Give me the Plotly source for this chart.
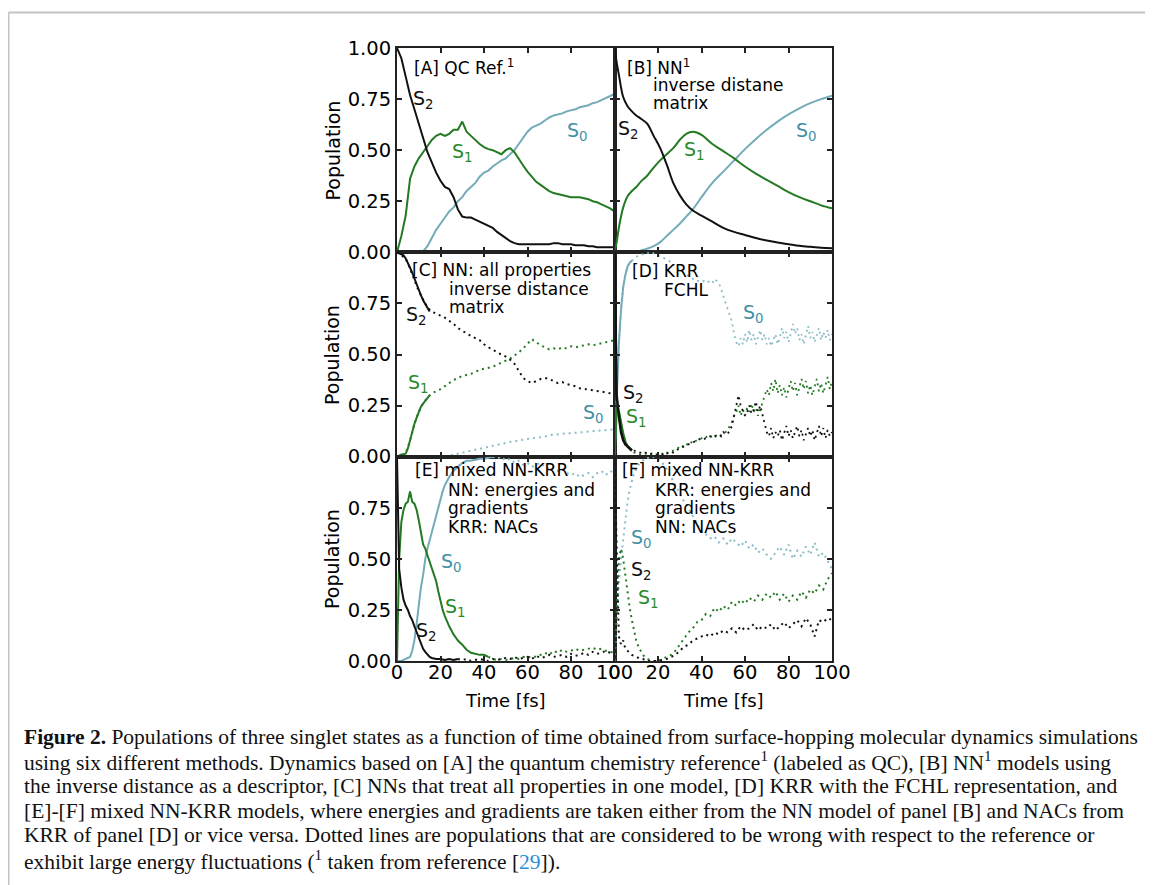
import plotly.graph_objects as go
from plotly.subplots import make_subplots

# ---------------- data ----------------
TA = list(range(0, 101, 2))
A_S2 = [1.00, 0.95, 0.86, 0.77, 0.70, 0.63, 0.56, 0.49, 0.44, 0.39,
        0.35, 0.32, 0.31, 0.27, 0.21, 0.175, 0.17, 0.17, 0.16, 0.15,
        0.14, 0.13, 0.12, 0.10, 0.085, 0.07, 0.055, 0.045, 0.04, 0.04,
        0.04, 0.04, 0.04, 0.04, 0.04, 0.04, 0.045, 0.045, 0.04, 0.04,
        0.04, 0.035, 0.035, 0.035, 0.03, 0.03, 0.025, 0.025, 0.025, 0.025, 0.025]
A_S1 = [0.00, 0.08, 0.18, 0.36, 0.42, 0.46, 0.49, 0.52, 0.55, 0.57,
        0.58, 0.57, 0.58, 0.60, 0.60, 0.64, 0.59, 0.57, 0.55, 0.53,
        0.515, 0.505, 0.50, 0.49, 0.48, 0.50, 0.51, 0.49, 0.455, 0.425,
        0.395, 0.37, 0.345, 0.33, 0.315, 0.30, 0.29, 0.285, 0.28, 0.275,
        0.27, 0.27, 0.27, 0.265, 0.26, 0.25, 0.245, 0.235, 0.225, 0.215, 0.20]
A_S0 = [0.00, 0.00, 0.00, 0.00, 0.00, 0.00, 0.005, 0.03, 0.07, 0.11,
        0.14, 0.17, 0.20, 0.22, 0.25, 0.27, 0.30, 0.32, 0.34, 0.37,
        0.39, 0.40, 0.42, 0.435, 0.45, 0.46, 0.48, 0.50, 0.53, 0.56,
        0.59, 0.61, 0.62, 0.63, 0.645, 0.66, 0.67, 0.675, 0.68, 0.69,
        0.695, 0.70, 0.71, 0.715, 0.72, 0.73, 0.735, 0.745, 0.755, 0.765, 0.775]

TB = [0, 1, 2, 4, 6, 8, 10, 12, 15, 18, 21, 24, 27, 30, 33, 36, 40, 45, 50,
      55, 60, 65, 70, 75, 80, 85, 90, 95, 100]
B_S2 = [1.00, 0.93, 0.87, 0.76, 0.715, 0.69, 0.67, 0.655, 0.63, 0.57, 0.51,
        0.43, 0.34, 0.28, 0.235, 0.205, 0.18, 0.15, 0.12, 0.10, 0.085, 0.07,
        0.058, 0.048, 0.04, 0.032, 0.027, 0.023, 0.02]
B_S1 = [0.00, 0.05, 0.12, 0.22, 0.275, 0.30, 0.32, 0.345, 0.375, 0.415, 0.45,
        0.48, 0.51, 0.55, 0.58, 0.59, 0.575, 0.53, 0.495, 0.46, 0.42, 0.385,
        0.355, 0.325, 0.295, 0.27, 0.25, 0.23, 0.215]
B_S0 = [0.00, 0.00, 0.00, 0.00, 0.00, 0.00, 0.00, 0.008, 0.018, 0.03, 0.05,
        0.08, 0.11, 0.14, 0.175, 0.21, 0.27, 0.34, 0.395, 0.45, 0.505, 0.555,
        0.60, 0.64, 0.675, 0.705, 0.73, 0.75, 0.767]

TC_solid = list(range(0, 16))
C_S2_solid = [1.00, 0.995, 0.99, 0.985, 0.97, 0.95, 0.925, 0.90, 0.87, 0.84,
              0.815, 0.79, 0.765, 0.745, 0.725, 0.71]
C_S1_solid = [0.00, 0.005, 0.01, 0.01, 0.015, 0.04, 0.085, 0.12, 0.16, 0.19,
              0.22, 0.245, 0.26, 0.275, 0.29, 0.30]
TC = list(range(0, 101, 2))
C_S2 = [1.00, 0.985, 0.97, 0.92, 0.86, 0.81, 0.77, 0.73, 0.71, 0.70,
        0.69, 0.68, 0.665, 0.65, 0.63, 0.615, 0.605, 0.59, 0.58, 0.57,
        0.55, 0.535, 0.525, 0.51, 0.50, 0.49, 0.475, 0.455, 0.42, 0.385,
        0.37, 0.36, 0.37, 0.38, 0.385, 0.38, 0.37, 0.36, 0.365, 0.355,
        0.35, 0.345, 0.335, 0.33, 0.328, 0.325, 0.32, 0.318, 0.315, 0.31, 0.305]
C_S1 = [0.00, 0.01, 0.015, 0.08, 0.16, 0.22, 0.26, 0.29, 0.31, 0.32,
        0.33, 0.345, 0.36, 0.375, 0.385, 0.395, 0.40, 0.405, 0.415, 0.425,
        0.43, 0.435, 0.44, 0.45, 0.46, 0.47, 0.48, 0.495, 0.51, 0.53,
        0.555, 0.575, 0.56, 0.545, 0.535, 0.525, 0.53, 0.525, 0.535, 0.53,
        0.54, 0.535, 0.54, 0.545, 0.55, 0.545, 0.55, 0.555, 0.56, 0.565, 0.57]
C_S0 = [0.00, 0.00, 0.00, 0.00, 0.00, 0.00, 0.00, 0.00, 0.00, 0.00,
        0.00, 0.00, 0.005, 0.01, 0.015, 0.02, 0.025, 0.03, 0.035, 0.04,
        0.045, 0.05, 0.055, 0.06, 0.065, 0.07, 0.072, 0.075, 0.08, 0.085,
        0.087, 0.09, 0.092, 0.095, 0.098, 0.105, 0.108, 0.11, 0.112, 0.114,
        0.115, 0.117, 0.118, 0.12, 0.122, 0.124, 0.126, 0.128, 0.13, 0.132, 0.134]

TD = list(range(0, 101))
D_S0 = [0.00, 0.30, 0.55, 0.72, 0.83, 0.89, 0.93, 0.95, 0.96, 0.97,
        0.98, 0.985, 0.99, 0.99, 0.995, 1.00, 0.995, 1.00, 0.995, 0.99,
        0.985, 0.98, 0.975, 0.97, 0.965, 0.96, 0.95, 0.94, 0.93, 0.92,
        0.91, 0.90, 0.90, 0.89, 0.885, 0.88, 0.87, 0.87, 0.86, 0.86,
        0.855, 0.86, 0.85, 0.855, 0.86, 0.85, 0.87, 0.86, 0.85, 0.82,
        0.79, 0.76, 0.73, 0.70, 0.66, 0.60, 0.56, 0.54, 0.58, 0.55,
        0.60, 0.56, 0.62, 0.57, 0.60, 0.55, 0.58, 0.62, 0.57, 0.60,
        0.55, 0.58, 0.54, 0.57, 0.60, 0.55, 0.58, 0.63, 0.58, 0.61,
        0.56, 0.60, 0.65, 0.60, 0.63, 0.57, 0.60, 0.55, 0.59, 0.64,
        0.58, 0.61, 0.56, 0.60, 0.63, 0.57, 0.61, 0.58, 0.62, 0.57, 0.60]
D_S2 = [1.00, 0.30, 0.20, 0.12, 0.08, 0.06, 0.05, 0.04, 0.03, 0.03,
        0.025, 0.02, 0.02, 0.015, 0.02, 0.015, 0.01, 0.015, 0.01, 0.01,
        0.01, 0.015, 0.01, 0.02, 0.015, 0.02, 0.025, 0.02, 0.03, 0.035,
        0.04, 0.045, 0.05, 0.055, 0.06, 0.065, 0.07, 0.075, 0.08, 0.085,
        0.09, 0.085, 0.09, 0.095, 0.10, 0.095, 0.10, 0.105, 0.11, 0.10,
        0.12, 0.11, 0.11, 0.13, 0.15, 0.20, 0.26, 0.30, 0.25, 0.22,
        0.20, 0.22, 0.25, 0.21, 0.23, 0.27, 0.22, 0.25, 0.21, 0.17,
        0.12, 0.10, 0.14, 0.09, 0.12, 0.10, 0.13, 0.08, 0.12, 0.15,
        0.10, 0.13, 0.09, 0.12, 0.15, 0.10, 0.13, 0.08, 0.11, 0.14,
        0.10, 0.13, 0.08, 0.12, 0.15, 0.10, 0.14, 0.09, 0.13, 0.10, 0.12]
D_S1 = [0.00, 0.25, 0.22, 0.16, 0.11, 0.07, 0.05, 0.04, 0.03, 0.02,
        0.02, 0.015, 0.01, 0.01, 0.005, 0.01, 0.005, 0.01, 0.005, 0.01,
        0.01, 0.01, 0.015, 0.01, 0.02, 0.02, 0.025, 0.03, 0.035, 0.04,
        0.05, 0.045, 0.06, 0.055, 0.07, 0.065, 0.08, 0.075, 0.08, 0.085,
        0.09, 0.10, 0.095, 0.10, 0.105, 0.09, 0.10, 0.095, 0.10, 0.105,
        0.11, 0.12, 0.13, 0.15, 0.17, 0.20, 0.22, 0.25, 0.20, 0.23,
        0.20, 0.24, 0.22, 0.26, 0.22, 0.24, 0.20, 0.23, 0.26, 0.30,
        0.33, 0.30, 0.36, 0.32, 0.38, 0.31, 0.35, 0.30, 0.34, 0.29,
        0.33, 0.37, 0.32, 0.36, 0.30, 0.34, 0.38, 0.33, 0.37, 0.31,
        0.35, 0.30, 0.34, 0.38, 0.32, 0.36, 0.31, 0.35, 0.39, 0.33, 0.37]

TE_S2_solid = [0, 1, 2, 3, 4, 5, 6, 7, 8, 9, 10, 11, 12, 13, 14, 15, 16, 18, 20, 22, 24, 26, 28]
E_S2_solid = [1.00, 0.45, 0.36, 0.30, 0.27, 0.25, 0.22, 0.20, 0.17, 0.14, 0.11, 0.085,
              0.06, 0.045, 0.03, 0.02, 0.015, 0.01, 0.01, 0.005, 0.01, 0.005, 0.01]
TE_S2_dot = list(range(28, 101, 2))
E_S2_dot = [0.01, 0.005, 0.01, 0.00, 0.005, 0.01, 0.005, 0.00, 0.01, 0.005,
            0.01, 0.015, 0.01, 0.02, 0.01, 0.015, 0.02, 0.01, 0.025, 0.015,
            0.02, 0.03, 0.02, 0.025, 0.03, 0.02, 0.035, 0.025, 0.03, 0.04,
            0.03, 0.045, 0.035, 0.04, 0.05, 0.04, 0.035]
TE_S1_solid = [0, 1, 2, 3, 4, 5, 6, 7, 8, 9, 10, 11, 12, 13, 14, 15, 16, 17, 18, 19, 20,
               21, 22, 24, 26, 28, 30, 32, 34, 36, 38, 40, 42]
E_S1_solid = [0.00, 0.50, 0.68, 0.74, 0.77, 0.78, 0.83, 0.78, 0.77, 0.74, 0.69, 0.63,
              0.57, 0.55, 0.52, 0.48, 0.45, 0.42, 0.39, 0.34, 0.29, 0.25, 0.22, 0.17,
              0.13, 0.10, 0.08, 0.055, 0.04, 0.035, 0.03, 0.03, 0.02]
TE_S1_dot = list(range(42, 101, 2))
E_S1_dot = [0.02, 0.01, 0.005, 0.01, 0.005, 0.01, 0.015, 0.01, 0.02, 0.015,
            0.025, 0.02, 0.03, 0.04, 0.03, 0.05, 0.04, 0.055, 0.045, 0.05,
            0.06, 0.05, 0.055, 0.06, 0.065, 0.055, 0.06, 0.05, 0.045, 0.04]
TE_S0_solid = [0, 2, 4, 6, 7, 8, 9, 10, 11, 12, 13, 14, 15, 16, 17, 18, 19, 20, 21, 22,
               23, 24, 26, 28, 30, 32, 34, 36, 38, 40, 42, 44]
E_S0_solid = [0.00, 0.00, 0.01, 0.02, 0.05, 0.10, 0.18, 0.28, 0.36, 0.42, 0.50, 0.55,
              0.59, 0.63, 0.67, 0.72, 0.76, 0.79, 0.83, 0.86, 0.88, 0.90, 0.93, 0.95,
              0.97, 0.98, 0.98, 0.985, 0.99, 0.99, 0.995, 1.00]
TE_S0_dot = list(range(44, 101, 2))
E_S0_dot = [1.00, 0.99, 1.00, 0.98, 0.99, 0.97, 0.98, 0.96, 0.97, 0.95,
            0.96, 0.97, 0.95, 0.94, 0.95, 0.93, 0.94, 0.92, 0.91, 0.92,
            0.90, 0.91, 0.92, 0.90, 0.92, 0.93, 0.91, 0.93, 0.92]

TF = list(range(0, 17)) + list(range(18, 101, 2))
F_S0 = [0.00, 0.20, 0.38, 0.50, 0.60, 0.70, 0.78, 0.84, 0.88, 0.92, 0.94, 0.96,
        0.97, 0.98, 0.99, 0.99, 1.00,
        1.00, 0.99, 0.97, 0.94, 0.90, 0.86, 0.82, 0.78, 0.75, 0.71, 0.67, 0.63,
        0.62, 0.60, 0.61, 0.58, 0.60, 0.57, 0.60, 0.58, 0.56, 0.59, 0.55, 0.57,
        0.53, 0.55, 0.52, 0.50, 0.53, 0.56, 0.52, 0.57, 0.50, 0.54, 0.51, 0.56,
        0.52, 0.58, 0.51, 0.53, 0.49, 0.45]
F_S1 = [0.00, 0.30, 0.50, 0.55, 0.50, 0.42, 0.33, 0.26, 0.20, 0.14, 0.10, 0.07,
        0.05, 0.03, 0.02, 0.01, 0.005,
        0.00, 0.00, 0.01, 0.02, 0.03, 0.05, 0.08, 0.11, 0.14, 0.16, 0.19, 0.20,
        0.23, 0.22, 0.26, 0.24, 0.27, 0.25, 0.29, 0.27, 0.30, 0.28, 0.31, 0.29,
        0.32, 0.30, 0.33, 0.31, 0.34, 0.30, 0.33, 0.29, 0.32, 0.30, 0.34, 0.31,
        0.35, 0.33, 0.37, 0.35, 0.40, 0.43]
F_S2 = [1.00, 0.50, 0.12, 0.08, 0.10, 0.06, 0.05, 0.04, 0.03, 0.025, 0.02, 0.015,
        0.01, 0.01, 0.005, 0.00, 0.00,
        0.00, 0.00, 0.005, 0.01, 0.02, 0.03, 0.05, 0.07, 0.08, 0.10, 0.11, 0.12,
        0.13, 0.12, 0.14, 0.13, 0.15, 0.14, 0.16, 0.14, 0.17, 0.15, 0.16, 0.18,
        0.15, 0.17, 0.16, 0.18, 0.15, 0.17, 0.19, 0.16, 0.18, 0.20, 0.17, 0.21,
        0.18, 0.12, 0.20, 0.19, 0.21, 0.20]

X_TICKS = [0, 20, 40, 60, 80, 100]
Y_TICKS_TOP = [0, 0.25, 0.5, 0.75, 1.0]
Y_TICKS = [0, 0.25, 0.5, 0.75]

# ---------------- styling ----------------
PAGE_OFF = 8                      # default body margin of the html page
W, H = 1153 - PAGE_OFF, 885 - PAGE_OFF
L, R, T, B = 397, 832, 48, 661   # plot area in page pixels
BLACK = "#111111"
GREEN = "#237a23"
TEAL = "#74abb9"
TEAL_DOT = "#8bbcc7"
GREEN_LBL = "#2a8a2a"
TEAL_LBL = "#3f90a4"
DOT = "2px,4px"
SANS = "DejaVu Sans, Arial, sans-serif"
SERIF = "Liberation Serif, Times New Roman, serif"


def xp(X):
    return (X - L) / (R - L)


def yp(Y):
    return (B - Y) / (B - T)


fig = make_subplots(rows=3, cols=2, horizontal_spacing=0, vertical_spacing=0)


def line(row, col, t, v, color, dash=None, width=2, shape="linear"):
    fig.add_trace(go.Scatter(x=t, y=v, mode="lines", showlegend=False, hoverinfo="skip",
                             line=dict(color=color, width=width, dash=dash, shape=shape)),
                  row=row, col=col)


# A
line(1, 1, TA, A_S0, TEAL)
line(1, 1, TA, A_S1, GREEN)
line(1, 1, TA, A_S2, BLACK)
# B
line(1, 2, TB, B_S0, TEAL, shape="spline")
line(1, 2, TB, B_S1, GREEN, shape="spline")
line(1, 2, TB, B_S2, BLACK, shape="spline")
# C
line(2, 1, TC, C_S0, TEAL_DOT, dash=DOT)
line(2, 1, TC, C_S1, GREEN, dash=DOT)
line(2, 1, TC, C_S2, BLACK, dash=DOT)
line(2, 1, TC_solid, C_S1_solid, GREEN)
line(2, 1, TC_solid, C_S2_solid, BLACK)
# D
line(2, 2, TD, D_S0, TEAL_DOT, dash=DOT, width=1.8)
line(2, 2, TD, D_S1, GREEN, dash=DOT, width=1.8)
line(2, 2, TD, D_S2, BLACK, dash=DOT, width=1.8)
line(2, 2, TD[:9], D_S0[:9], TEAL)
line(2, 2, TD[:9], D_S1[:9], GREEN, width=2.5)
line(2, 2, TD[:9], D_S2[:9], BLACK, width=2.5)
# E
line(3, 1, TE_S0_solid, E_S0_solid, TEAL)
line(3, 1, TE_S0_dot, E_S0_dot, TEAL_DOT, dash=DOT)
line(3, 1, TE_S1_solid, E_S1_solid, GREEN)
line(3, 1, TE_S1_dot, E_S1_dot, GREEN, dash=DOT)
line(3, 1, TE_S2_solid, E_S2_solid, BLACK)
line(3, 1, TE_S2_dot, E_S2_dot, BLACK, dash=DOT)
# F
line(3, 2, TF, F_S0, TEAL_DOT, dash=DOT)
line(3, 2, TF, F_S1, GREEN, dash=DOT)
line(3, 2, TF, F_S2, BLACK, dash=DOT)

tickfont = dict(family=SANS, size=19.5, color="black")
for r in range(1, 4):
    for c in range(1, 3):
        fig.update_xaxes(range=[0, 100], tickvals=X_TICKS, ticks="inside", ticklen=5,
                         tickwidth=1.5, tickcolor="#222", showline=True, linewidth=2,
                         linecolor="#222", mirror="allticks", showgrid=False, zeroline=False,
                         showticklabels=(r == 3), tickfont=tickfont, ticklabelstandoff=-7,
                         row=r, col=c)
        yt = Y_TICKS_TOP if r == 1 else Y_TICKS
        fig.update_yaxes(range=[0, 1], tickvals=yt, ticktext=["%.2f" % v for v in yt],
                         ticks="inside", ticklen=5, tickwidth=1.5, tickcolor="#222",
                         showline=True, linewidth=2, linecolor="#222", mirror="allticks",
                         showgrid=False, zeroline=False, showticklabels=(c == 1),
                         tickfont=tickfont, row=r, col=c)


# panel texts
def ptext(X, Y, s, size=17):
    fig.add_annotation(x=xp(X), y=yp(Y), xref="paper", yref="paper", text=s,
                       showarrow=False, xanchor="left", yanchor="middle",
                       font=dict(family=SANS, size=size, color="black"))


ptext(412, 67, "[A] QC Ref.<sup>1</sup>")
ptext(625, 67, "[B] NN<sup>1</sup>")
ptext(651, 85, "inverse distane")
ptext(651, 103, "matrix")
ptext(410, 270, "[C] NN: all properties")
ptext(447, 288.5, "inverse distance")
ptext(447, 307, "matrix")
ptext(630, 271, "[D] KRR")
ptext(662, 290, "FCHL")
ptext(413, 470, "[E] mixed NN-KRR")
ptext(446, 490, "NN: energies and")
ptext(446, 508, "gradients")
ptext(446, 527, "KRR: NACs")
ptext(620, 470, "[F] mixed NN-KRR")
ptext(653, 490, "KRR: energies and")
ptext(653, 508, "gradients")
ptext(653, 527, "NN: NACs")


def slabel(row, col, t, y, k, color):
    fig.add_annotation(x=t, y=y, text="S<sub>%d</sub>" % k, showarrow=False,
                       xanchor="center", yanchor="middle",
                       font=dict(family=SANS, size=19, color=color), row=row, col=col)


slabel(1, 1, 12, 0.75, 2, BLACK)
slabel(1, 1, 30, 0.49, 1, GREEN_LBL)
slabel(1, 1, 83, 0.59, 0, TEAL_LBL)
slabel(1, 2, 6.5, 0.60, 2, BLACK)
slabel(1, 2, 37, 0.50, 1, GREEN_LBL)
slabel(1, 2, 88.5, 0.59, 0, TEAL_LBL)
slabel(2, 1, 9, 0.69, 2, BLACK)
slabel(2, 1, 10, 0.36, 1, GREEN_LBL)
slabel(2, 1, 90.5, 0.21, 0, TEAL_LBL)
slabel(2, 2, 64, 0.70, 0, TEAL_LBL)
slabel(2, 2, 8.6, 0.31, 2, BLACK)
slabel(2, 2, 10.2, 0.19, 1, GREEN_LBL)
slabel(3, 1, 25.2, 0.48, 0, TEAL_LBL)
slabel(3, 1, 26.7, 0.26, 1, GREEN_LBL)
slabel(3, 1, 13.7, 0.145, 2, BLACK)
slabel(3, 2, 12.5, 0.60, 0, TEAL_LBL)
slabel(3, 2, 12.5, 0.445, 2, BLACK)
slabel(3, 2, 15.5, 0.305, 1, GREEN_LBL)

# axis titles
for Yc in (150.5, 355, 559):
    fig.add_annotation(x=xp(332), y=yp(Yc), xref="paper", yref="paper", text="Population",
                       textangle=-90, showarrow=False, xanchor="center", yanchor="middle",
                       font=dict(family=SANS, size=19, color="black"))
for Xc in (505.5, 723):
    fig.add_annotation(x=xp(Xc), y=yp(700), xref="paper", yref="paper", text="Time [fs]",
                       showarrow=False, xanchor="center", yanchor="middle",
                       font=dict(family=SANS, size=18, color="black"))

# caption
CAPTION = [
    "<b>Figure 2.</b> Populations of three singlet states as a function of time obtained from surface-hopping molecular dynamics simulations",
    "using six different methods. Dynamics based on [A] the quantum chemistry reference<sup>1</sup> (labeled as QC), [B] NN<sup>1</sup> models using",
    "the inverse distance as a descriptor, [C] NNs that treat all properties in one model, [D] KRR with the FCHL representation, and",
    "[E]-[F] mixed NN-KRR models, where energies and gradients are taken either from the NN model of panel [B] and NACs from",
    "KRR of panel [D] or vice versa. Dotted lines are populations that are considered to be wrong with respect to the reference or",
    "exhibit large energy fluctuations (<sup>1</sup> taken from reference [<span style='color:#2a8fd6'>29</span>]).",
]
for i, s in enumerate(CAPTION):
    fig.add_annotation(x=xp(22), y=yp(737 + 24.6 * i), xref="paper", yref="paper", text=s,
                       showarrow=False, xanchor="left", yanchor="middle",
                       font=dict(family=SERIF, size=21.5, color="#111"))

# frame lines (top and left)
fig.add_shape(type="line", xref="paper", yref="paper", x0=xp(8.5), x1=xp(1153),
              y0=yp(12.5), y1=yp(12.5), line=dict(color="#c4c4c4", width=2))
fig.add_shape(type="line", xref="paper", yref="paper", x0=xp(8.5), x1=xp(8.5),
              y0=yp(12.5), y1=yp(885), line=dict(color="#c4c4c4", width=2))

fig.update_layout(width=W, height=H,
                  margin=dict(l=L - PAGE_OFF, r=W - (R - PAGE_OFF), t=T - PAGE_OFF,
                              b=H - (B - PAGE_OFF)),
                  plot_bgcolor="white", paper_bgcolor="white", showlegend=False)
fig.write_html("out.html")
